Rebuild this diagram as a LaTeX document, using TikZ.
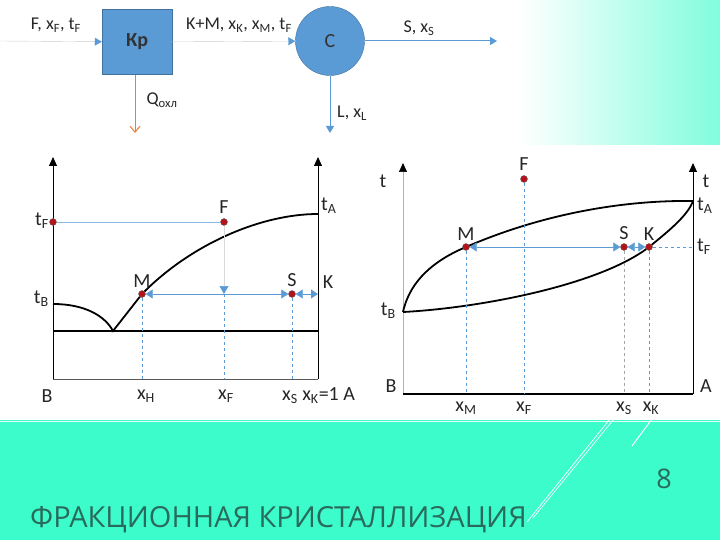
\documentclass[tikz,border=0pt]{standalone}
\usepackage{fontspec}
\setmainfont{Carlito}
\newfontfamily\titlefont{Open Sans}
\usepackage{tikz}
\usetikzlibrary{positioning}
\usetikzlibrary{arrows.meta,shapes}
\usetikzlibrary{calc}
\definecolor{boxblue}{HTML}{5B9BD5}
\definecolor{boxline}{HTML}{41719C}
\definecolor{qorange}{HTML}{ED7D31}
\definecolor{dotred}{HTML}{B3141B}
\definecolor{aqua}{HTML}{3DFCCB}
\definecolor{titlecol}{HTML}{2A6A5C}
\newcommand{\subs}[1]{\textsubscript{#1}}
\tikzstyle{unit}=[rectangle,fill=boxblue,draw=boxline,minimum width=70pt,minimum height=65pt,font=\fontsize{20}{20}\selectfont\bfseries,text=black!80]
\tikzstyle{sep}=[circle,fill=boxblue,draw=boxline,minimum size=69pt,inner sep=0pt,font=\fontsize{20}{20}\selectfont,text=black!80]
\tikzstyle{stream}=[draw=black!20,-{Triangle[length=7pt,width=8pt,color=boxblue]}]
\tikzstyle{flow}=[draw=boxblue,line width=1pt,-{Triangle[length=7pt,width=8pt]}]
\tikzstyle{heat}=[draw=qorange,line width=1pt,-{Straight Barb[length=6pt,width=10pt]}]
\tikzstyle{flowlbl}=[font=\fontsize{18}{18}\selectfont,inner sep=1pt,text=black!85]
\tikzstyle{axis}=[draw,line width=0.8pt,-{Triangle[length=9pt,width=8pt]}]
\tikzstyle{curve}=[draw,line width=1.8pt]
\tikzstyle{tie}=[draw=boxblue,line width=0.8pt,{Triangle[length=7pt,width=9pt]}-{Triangle[length=7pt,width=9pt]}]
\tikzstyle{guide}=[draw=boxblue,dashed,line width=0.8pt]
\tikzstyle{pt}=[circle,fill=dotred,draw=black!60,minimum size=7pt,inner sep=0pt]
\tikzstyle{lbl}=[font=\fontsize{20}{20}\selectfont,inner sep=1pt,text=black!85]

\begin{document}
\begin{tikzpicture}[x=1pt,y=-1pt]
    \useasboundingbox (0,0) rectangle (720,540);

    % background
    \fill[aqua] (0,420) rectangle (720,540);
    \draw[white!85!aqua,line width=1pt] (0,421) -- (720,421);
    \shade[left color=white,right color=aqua!65] (520,0) rectangle (720,145);
    \draw[white,line width=0.7pt] (527,522) -- (610,419);
    \draw[white,line width=0.7pt] (533,518) -- (614,419);
    \draw[white,line width=1pt] (632,446) -- (652,419);

    % flow sheet
    \node[unit] (Kr) at (137,42) {Кр};
    \node[sep] (C) at (330,41) {С};
    \coordinate (in) at (0,41);
    \coordinate (sOut) at (497,41);
    \coordinate (lOut) at (330,133);
    \coordinate (qOut) at (135,133);
    \path[stream] (in) -- (Kr);
    \path[stream] (Kr) -- (C);
    \draw[flow] (C) -- (sOut);
    \draw[flow] (C) -- (lOut);
    \draw[heat] (Kr.south -| qOut) -- (qOut);
    \node[flowlbl] (fIn) at (56,25) {F, x\subs{F}, t\subs{F}};
    \node[flowlbl] (fKM) at (239,25) {K+M, x\subs{K}, x\subs{M}, t\subs{F}};
    \node[flowlbl] (fS) at (419,28) {S, x\subs{S}};
    \node[flowlbl] (fL) at (352,113) {L, x\subs{L}};
    \node[flowlbl] (fQ) at (162,100) {Q\subs{охл}};

    % left diagram: eutectic system
    \coordinate (lB) at (53,379);
    \coordinate (lBtop) at (53,157);
    \coordinate (lA) at (318,379);
    \coordinate (lAtop) at (318,157);
    \coordinate (lTB) at (53,304);
    \coordinate (lE) at (113,331);
    \coordinate (lTA) at (318,214);
    \coordinate (lE0) at (53,331);
    \coordinate (lE1) at (318,331);
    \coordinate (lK) at (318,294);
    \coordinate (lFt) at (224,294);
    \draw[axis] (lB) -- (lBtop);
    \draw[axis] (lA) -- (lAtop);
    \draw[black!65,line width=1pt] (lB) -- (lA);
    \draw[curve] (lE0) -- (lE1);
    \draw[curve] (lTB) .. controls (85,304) and (105,316) .. (lE) -- (142,294) .. controls (190,245) and (260,214) .. (lTA);

    \foreach \n/\x/\y in {TF/53/222, F/224/222, M/142/294, S/292/294}
        \node[pt] (l\n) at (\x,\y) {};

    \foreach \n/\x in {M/142, F/224, S/292}
        \coordinate (lx\n) at (\x,379);

    \draw[boxblue!70,line width=0.6pt] (lTF) -- (lF);
    \draw[black!15,line width=0.6pt,-{Triangle[length=8pt,width=9pt,color=boxblue]}] (lF) -- (lFt);
    \path[tie] (lM) -- (lS);
    \path[tie] (lS) -- (lK);
    \foreach \source/\dest in {lM/lxM, lFt/lxF, lS/lxS}
        \path[guide] (\source) -- (\dest);

    \node[lbl,anchor=east] (ltF) at (50,221) {t\subs{F}};
    \node[lbl,anchor=east] (ltB) at (50,299) {t\subs{B}};
    \node[lbl,anchor=west] (ltA) at (320,206) {t\subs{A}};
    \node[lbl,above=4pt of lF] (lFl) {F};
    \node[lbl,above=2pt of lM] (lMl) {M};
    \node[lbl,above=2pt of lS] (lSl) {S};
    \node[lbl] (lKl) at (328,282) {K};
    \node[lbl] (lBl) at (47,396) {B};
    \node[lbl] (lxMl) at (146,396) {x\subs{H}};
    \node[lbl] (lxFl) at (226,396) {x\subs{F}};
    \node[lbl,anchor=west] (lxSl) at (281,396) {x\subs{S} x\subs{K}=1 A};

    % right diagram: solid solutions
    \coordinate (rB) at (403,394);
    \coordinate (rBtop) at (403,163);
    \coordinate (rA) at (693,394);
    \coordinate (rAtop) at (693,163);
    \coordinate (rTB) at (403,312);
    \coordinate (rTA) at (693,201);
    \coordinate (rTF) at (693,247);
    \draw[black!30,line width=0.6pt,-{Triangle[length=9pt,width=8pt,color=black]}] (rB) -- (rBtop);
    \draw[axis] (rA) -- (rAtop);
    \draw[line width=1.2pt] (rB) -- (rA);
    \draw[curve] (rTB) .. controls (410,280) and (435,260) .. (466,247) .. controls (540,215) and (620,200) .. (rTA);
    \draw[curve] (rTB) .. controls (480,308) and (600,285) .. (649,247) .. controls (670,230) and (688,215) .. (rTA);

    \foreach \n/\x/\y in {F/524/179, M/466/247, S/624/247, K/649/247}
        \node[pt] (r\n) at (\x,\y) {};

    \foreach \n/\x in {M/466, F/524, S/624, K/649}
        \coordinate (rx\n) at (\x,394);

    \path[tie] (rM) -- (rS);
    \path[tie] (rS) -- (rK);
    \path[guide] (rK) -- (rTF);
    \foreach \source/\dest in {rM/rxM, rF/rxF, rK/rxK}
        \path[guide] (\source) -- (\dest);
    \path[guide,draw=black!35] (rS) -- (rxS);

    \node[lbl] (rtl) at (383,181) {t};
    \node[lbl] (rtr) at (706,181) {t};
    \node[lbl,anchor=east] (rtB) at (397,311) {t\subs{B}};
    \node[lbl,anchor=west] (rtA) at (696,206) {t\subs{A}};
    \node[lbl,anchor=west] (rtF) at (696,247) {t\subs{F}};
    \node[lbl,above=2pt of rM] (rMl) {M};
    \node[lbl,above=4pt of rF] (rFl) {F};
    \node[lbl,above=2pt of rS] (rSl) {S};
    \node[lbl,above=2pt of rK] (rKl) {K};
    \node[lbl] (rBl) at (391,386) {B};
    \node[lbl] (rAl) at (706,386) {A};
    \foreach \n/\x in {M/466, F/524, S/624, K/651}
        \node[lbl] (rx\n l) at (\x,408) {x\subs{\n}};

    % slide caption
    \node[anchor=base west,inner sep=0pt,text=titlecol,font=\titlefont\fontsize{29}{29}\selectfont] (title) at (30,527) {ФРАКЦИОННАЯ КРИСТАЛЛИЗАЦИЯ};
    \node[anchor=base,inner sep=0pt,text=titlecol,font=\titlefont\fontsize{27}{27}\selectfont] (page) at (664,488) {8};
\end{tikzpicture}
\end{document}
